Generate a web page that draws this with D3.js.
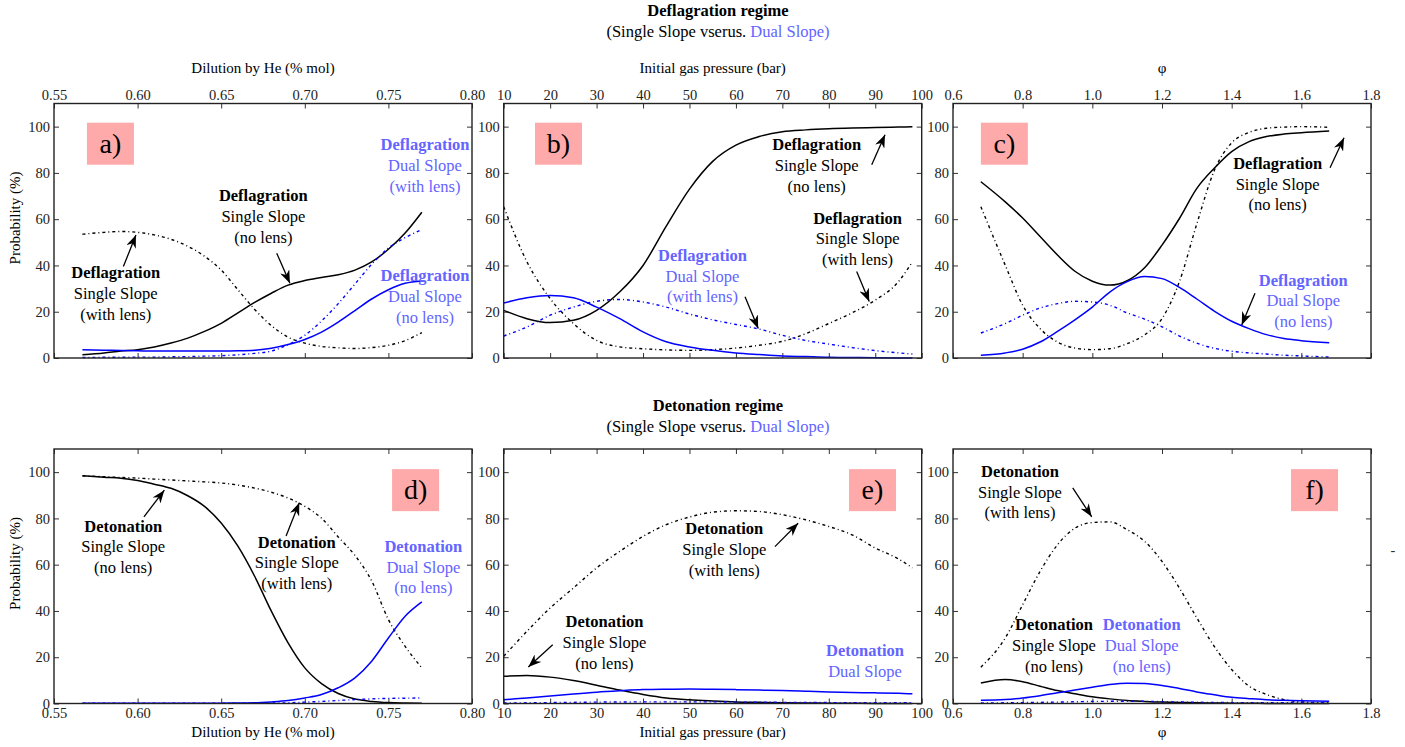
<!DOCTYPE html>
<html>
<head>
<meta charset="utf-8">
<script src="https://cdn.jsdelivr.net/npm/d3@7"></script>
<style>
  body { margin: 0; background: #fff; }
</style>
</head>
<body>
<svg width="1405" height="747"></svg>
<script>
// x samples
const dilutionX = [0.567, 0.58, 0.59, 0.60, 0.61, 0.62, 0.63, 0.64, 0.65, 0.66, 0.67, 0.68, 0.69, 0.70, 0.71, 0.72, 0.73, 0.74, 0.75, 0.76, 0.77];
const pressureX = [10, 15, 20, 25, 30, 35, 40, 45, 50, 55, 60, 65, 70, 75, 80, 85, 90, 95, 98];
const phiX = [0.68, 0.75, 0.8, 0.85, 0.9, 0.95, 1.0, 1.05, 1.1, 1.15, 1.2, 1.25, 1.3, 1.35, 1.4, 1.45, 1.5, 1.55, 1.6, 1.68];

// tick labels
const dilutionTicks = [0.55, 0.60, 0.65, 0.70, 0.75, 0.80];
const pressureTicks = [10, 20, 30, 40, 50, 60, 70, 80, 90, 100];
const phiTicks = [0.6, 0.8, 1.0, 1.2, 1.4, 1.6, 1.8];
const probTicks = [0, 20, 40, 60, 80, 100];

// a) deflagration vs dilution
const aSingleNoLens = [1.4, 2.2, 3.0, 3.6, 4.8, 6.5, 8.6, 11.5, 15, 19.5, 24, 28, 31.5, 33.5, 34.8, 36, 38, 41.5, 47, 54, 63];
const aSingleLens = [53.5, 54.3, 54.7, 54.3, 53.2, 51.3, 48.3, 44, 38, 29.5, 21, 14, 9, 6.4, 5, 4.4, 4.1, 4.5, 5.5, 7.5, 11];
const aDualNoLens = [3.6, 3.4, 3.2, 3.1, 3.0, 3.0, 3.0, 3.0, 3.0, 3.1, 3.4, 4.2, 5.8, 8, 11.2, 15.5, 20.5, 25.5, 29.5, 32.3, 33.3];
const aDualLens = [0.2, 0.3, 0.3, 0.4, 0.4, 0.5, 0.6, 0.8, 1.0, 1.4, 2.0, 3.0, 5.8, 9.8, 16, 23.5, 32, 40.5, 47.5, 52, 55.5];

// b) deflagration vs pressure
const bSingleNoLens = [20.6, 17, 15.3, 16.3, 20.6, 28.6, 40, 57, 73, 85, 92, 95.7, 97.8, 98.6, 99.1, 99.4, 99.6, 99.8, 99.9];
const bSingleLens = [65.4, 41.6, 25.7, 14.9, 7.6, 4.8, 4, 3.5, 3.3, 3.6, 4.3, 5.5, 7.2, 10.5, 14.9, 19.5, 25, 33, 41.6];
const bDualNoLens = [23.8, 26, 27, 26, 22, 17, 11.3, 7, 4.8, 3.3, 2.2, 1.5, 0.9, 0.6, 0.3, 0.2, 0.1, 0.05, 0];
const bDualLens = [9.5, 13.4, 18.5, 22, 24.5, 25.3, 24.2, 22, 19, 16.5, 14.5, 12.5, 9.8, 7.6, 6, 4.5, 3.2, 2.2, 1.7];

// c) deflagration vs phi
const cSingleNoLens = [76.2, 67.5, 60.5, 52.5, 44.5, 37.5, 33.2, 31.5, 33.4, 39, 48.8, 60.3, 73.3, 82, 89.2, 93.5, 95.7, 96.8, 97.4, 98.1];
const cSingleLens = [65.4, 40.1, 22.8, 12.7, 6.9, 4.3, 3.6, 4, 6.2, 10, 17, 33, 58, 81, 93, 97.5, 99.3, 99.8, 100, 99.7];
const cDualNoLens = [1.2, 2.2, 3.8, 6.9, 11.5, 16.5, 22, 28.5, 33, 35.2, 34.3, 30.5, 25.5, 20.3, 15.9, 12.7, 10.1, 8.4, 7.5, 6.6];
const cDualLens = [10.8, 14.9, 18.5, 21.6, 23.5, 24.5, 24.2, 22.8, 19.5, 16.8, 13.5, 9.5, 6.4, 4.2, 2.9, 2.2, 1.7, 1.2, 0.9, 0.4];

// d) detonation vs dilution
const dSingleNoLens = [98.4, 97.8, 97.4, 96.4, 94.8, 93, 89.8, 85.2, 78, 68, 55, 39.9, 26.2, 15.4, 8.6, 4.3, 1.9, 0.9, 0.4, 0.2, 0.1];
const dSingleLens = [98.4, 98.0, 97.7, 97.4, 97.0, 96.6, 96.2, 95.8, 95.3, 94.4, 93.1, 91.3, 88.8, 85.2, 80.1, 72, 64, 53, 36.3, 24.7, 15.4];
const dDualNoLens = [0.1, 0.1, 0.1, 0.1, 0.1, 0.1, 0.1, 0.15, 0.15, 0.2, 0.3, 0.7, 1.3, 2.4, 3.9, 6.8, 11.1, 18.3, 28.3, 37.7, 43.9];
const dDualLens = [0.1, 0.1, 0.1, 0.1, 0.1, 0.1, 0.1, 0.1, 0.1, 0.1, 0.15, 0.2, 0.3, 0.6, 0.9, 1.3, 1.7, 2.0, 2.2, 2.3, 2.4];

// e) detonation vs pressure
const eSingleNoLens = [11.8, 12.1, 11.4, 9.9, 7.9, 5.8, 3.9, 2.4, 1.6, 1.1, 0.7, 0.5, 0.3, 0.2, 0.15, 0.1, 0.05, 0.02, 0];
const eSingleLens = [20.4, 31.2, 41.3, 49.9, 58.6, 65.8, 72.2, 77.3, 80.6, 82.7, 83.3, 83, 81.6, 79.4, 76.5, 72.9, 67.2, 62.5, 58.6];
const eDualNoLens = [1.6, 2.4, 3.2, 4.1, 4.9, 5.5, 6, 6.2, 6.3, 6.2, 6, 5.8, 5.6, 5.3, 5, 4.8, 4.6, 4.4, 4.2];
const eDualLens = [0.2, 0.3, 0.4, 0.5, 0.6, 0.65, 0.7, 0.7, 0.7, 0.7, 0.6, 0.55, 0.5, 0.45, 0.4, 0.35, 0.3, 0.3, 0.3];

// f) detonation vs phi
const fSingleNoLens = [8.9, 10.4, 9.4, 7.5, 5.6, 4.2, 2.9, 2.0, 1.3, 0.9, 0.6, 0.45, 0.3, 0.2, 0.15, 0.1, 0.05, 0.03, 0.02, 0];
const fSingleLens = [15.7, 28.3, 42.7, 57.1, 68.6, 75.8, 78.2, 78.5, 75.1, 70.1, 61.4, 49.9, 37, 24.7, 14.7, 7.5, 3.9, 1.7, 0.7, 0.3];
const fDualNoLens = [1.4, 1.7, 2.4, 3.4, 4.6, 5.8, 7, 8.2, 8.8, 8.6, 7.8, 6.5, 5, 3.8, 2.7, 2.1, 1.6, 1.4, 1.2, 1.0];
const fDualLens = [0.2, 0.3, 0.4, 0.5, 0.6, 0.75, 0.9, 0.95, 1.0, 0.95, 0.8, 0.65, 0.55, 0.45, 0.4, 0.35, 0.3, 0.3, 0.3, 0.3];

const svg = d3.select("svg");
const serif = '"Liberation Serif", "Times New Roman", serif';
const blue = "#0000ff";
const textBlue = "#6464ff";
const dashDot = "3,3,1,3";
const panelW = 418, panelH = 254.5;
const colLeft = [54, 503.7, 953];
const rowTop = [103.5, 449];

const fmt2 = d3.format(".2f"), fmt1 = d3.format(".1f"), fmt0 = d3.format("d");

function sr(xs, a, b, c, d) {
  return [
    { xs: xs, ys: a, color: "#000", dash: null },
    { xs: xs, ys: b, color: "#000", dash: dashDot },
    { xs: xs, ys: c, color: blue, dash: null },
    { xs: xs, ys: d, color: blue, dash: dashDot }
  ];
}

function txt(sel) {
  return sel.append("text").style("font-family", serif);
}

const defl = "Deflagration", deto = "Detonation";
const panels = [
  { letter: "a)", row: 0, col: 0, domain: [0.55, 0.80], ticks: dilutionTicks, fmt: fmt2, title: "Dilution by He (% mol)",
    series: sr(dilutionX, aSingleNoLens, aSingleLens, aDualNoLens, aDualLens), box: [0.5697, 101.7],
    notes: [
      { lines: [defl, "Single Slope", "(with lens)"], color: "#000", at: [0.5869, 34.6], arrow: [0.5915, 39.5, 0.599, 53.2] },
      { lines: [defl, "Single Slope", "(no lens)"], color: "#000", at: [0.6752, 67.7], arrow: [0.6832, 45.3, 0.6911, 32.3] },
      { lines: [defl, "Dual Slope", "(with lens)"], color: textBlue, at: [0.7719, 89.7] },
      { lines: [defl, "Dual Slope", "(no lens)"], color: textBlue, at: [0.7719, 33.3] }
    ] },
  { letter: "b)", row: 0, col: 1, domain: [10, 100], ticks: pressureTicks, fmt: fmt0, title: "Initial gas pressure (bar)",
    series: sr(pressureX, bSingleNoLens, bSingleLens, bDualNoLens, bDualLens), box: [16.74, 101.7],
    notes: [
      { lines: [defl, "Single Slope", "(no lens)"], color: "#000", at: [77.4, 89.7], arrow: [89.24, 83.5, 92.1, 96.5] },
      { lines: [defl, "Single Slope", "(with lens)"], color: "#000", at: [86.2, 58.1], arrow: [86.0, 37.4, 88.7, 24.4] },
      { lines: [defl, "Dual Slope", "(with lens)"], color: textBlue, at: [52.8, 42.0], arrow: [61.96, 26.5, 64.8, 12.8] }
    ] },
  { letter: "c)", row: 0, col: 2, domain: [0.6, 1.8], ticks: phiTicks, fmt: fmt1, title: "φ",
    series: sr(phiX, cSingleNoLens, cSingleLens, cDualNoLens, cDualLens), box: [0.680, 101.7],
    notes: [
      { lines: [defl, "Single Slope", "(no lens)"], color: "#000", at: [1.532, 81.8], arrow: [1.6824, 82.2, 1.7226, 95.2] },
      { lines: [defl, "Dual Slope", "(no lens)"], color: textBlue, at: [1.6057, 31.3], arrow: [1.467, 28.0, 1.4289, 14.3] }
    ] },
  { letter: "d)", row: 1, col: 0, domain: [0.55, 0.80], ticks: dilutionTicks, fmt: fmt2, title: "Dilution by He (% mol)",
    series: sr(dilutionX, dSingleNoLens, dSingleLens, dDualNoLens, dDualLens), box: [0.7522, 101.3],
    notes: [
      { lines: [deto, "Single Slope", "(no lens)"], color: "#000", at: [0.5914, 74.3], arrow: [0.6038, 80.7, 0.616, 92.2] },
      { lines: [deto, "Single Slope", "(with lens)"], color: "#000", at: [0.6952, 67.4], arrow: [0.6888, 72.4, 0.6967, 86.8] },
      { lines: [deto, "Dual Slope", "(no lens)"], color: textBlue, at: [0.7709, 65.6] }
    ] },
  { letter: "e)", row: 1, col: 1, domain: [10, 100], ticks: pressureTicks, fmt: fmt0, title: "Initial gas pressure (bar)",
    series: sr(pressureX, eSingleNoLens, eSingleLens, eDualNoLens, eDualLens), box: [84.35, 101.3],
    notes: [
      { lines: [deto, "Single Slope", "(with lens)"], color: "#000", at: [57.5, 73.1], arrow: [68.4, 67.8, 73.4, 77.9] },
      { lines: [deto, "Single Slope", "(no lens)"], color: "#000", at: [31.7, 33.1], arrow: [20.55, 25.4, 15.3, 15.8] },
      { lines: [deto, "Dual Slope"], color: textBlue, at: [87.8, 20.4] }
    ] },
  { letter: "f)", row: 1, col: 2, domain: [0.6, 1.8], ticks: phiTicks, fmt: fmt1, title: "φ",
    series: sr(phiX, fSingleNoLens, fSingleLens, fDualNoLens, fDualLens), box: [1.5704, 101.3],
    notes: [
      { lines: [deto, "Single Slope", "(with lens)"], color: "#000", at: [0.7924, 98.0], arrow: [0.9437, 93.2, 0.9982, 80.7] },
      { lines: [deto, "Single Slope", "(no lens)"], color: "#000", at: [0.89, 31.6] },
      { lines: [deto, "Dual Slope", "(no lens)"], color: textBlue, at: [1.1418, 31.6] }
    ] }
];

// arrow head
svg.append("defs").append("marker")
  .attr("id", "head")
  .attr("markerUnits", "userSpaceOnUse")
  .attr("markerWidth", 14).attr("markerHeight", 10)
  .attr("refX", 13).attr("refY", 5)
  .attr("orient", "auto")
  .append("path")
  .attr("d", "M0,0 L13,5 L0,10 L4,5 Z")
  .attr("fill", "#000");

panels.forEach(p => {
  const g = svg.append("g")
    .attr("transform", "translate(" + colLeft[p.col] + "," + rowTop[p.row] + ")");
  const x = d3.scaleLinear().domain(p.domain).range([0, panelW]);
  const y = d3.scaleLinear().domain([0, 110]).range([panelH, 0]);

  // axes, ticks pointing inward
  const styleAxis = a => {
    a.attr("font-size", 14.5);
    a.select(".domain").remove();
    a.selectAll(".tick line").attr("stroke", "#333");
    a.selectAll(".tick text").attr("fill", "#222").style("font-family", serif);
  };
  const xMain = p.row === 0 ? d3.axisTop(x) : d3.axisBottom(x);
  const xMirror = p.row === 0 ? d3.axisBottom(x) : d3.axisTop(x);
  g.append("g").attr("transform", "translate(0," + (p.row === 0 ? 0 : panelH) + ")")
    .call(xMain.tickValues(p.ticks).tickFormat(p.fmt).tickSize(-5).tickPadding(4)).call(styleAxis);
  g.append("g").attr("transform", "translate(0," + (p.row === 0 ? panelH : 0) + ")")
    .call(xMirror.tickValues(p.ticks).tickFormat("").tickSize(-5)).call(styleAxis);
  g.append("g")
    .call(d3.axisLeft(y).tickValues(probTicks).tickSize(-5).tickPadding(4)).call(styleAxis);
  g.append("g").attr("transform", "translate(" + panelW + ",0)")
    .call(d3.axisRight(y).tickValues(probTicks).tickFormat("").tickSize(-5)).call(styleAxis);

  // curves
  const line = d3.line()
    .x(d => x(d[0]))
    .y(d => y(d[1]))
    .curve(d3.curveMonotoneX);
  g.selectAll("path.curve")
    .data(p.series)
    .enter()
    .append("path")
    .attr("class", "curve")
    .attr("d", s => line(s.xs.map((v, i) => [v, s.ys[i]])))
    .attr("fill", "none")
    .attr("stroke", s => s.color)
    .attr("stroke-width", s => s.dash ? 1.4 : 1.5)
    .attr("stroke-dasharray", s => s.dash);

  // frame
  g.append("rect")
    .attr("width", panelW).attr("height", panelH)
    .attr("fill", "none").attr("stroke", "#222").attr("stroke-width", 1.4);

  // panel letter
  g.append("rect")
    .attr("x", x(p.box[0])).attr("y", y(p.box[1]))
    .attr("width", 47).attr("height", 42)
    .attr("fill", "#ffaaaa");
  txt(g)
    .attr("x", x(p.box[0]) + 23.5).attr("y", y(p.box[1]) + 30)
    .attr("text-anchor", "middle").attr("font-size", 28)
    .text(p.letter);

  // annotations
  p.notes.forEach(n => {
    if (n.arrow) {
      g.append("line")
        .attr("x1", x(n.arrow[0])).attr("y1", y(n.arrow[1]))
        .attr("x2", x(n.arrow[2])).attr("y2", y(n.arrow[3]))
        .attr("stroke", "#000").attr("stroke-width", 1.3)
        .attr("marker-end", "url(#head)");
    }
    const t = txt(g)
      .attr("x", x(n.at[0])).attr("y", y(n.at[1]))
      .attr("text-anchor", "middle").attr("font-size", 16.5)
      .attr("fill", n.color);
    n.lines.forEach((l, i) => {
      t.append("tspan")
        .attr("x", x(n.at[0]))
        .attr("dy", i === 0 ? 0 : 20.8)
        .attr("font-weight", i === 0 ? "bold" : null)
        .text(l);
    });
  });

  // axis title
  txt(svg)
    .attr("x", colLeft[p.col] + panelW / 2)
    .attr("y", p.row === 0 ? rowTop[0] - 31 : rowTop[1] + panelH + 33)
    .attr("text-anchor", "middle").attr("font-size", 15)
    .text(p.title);

  if (p.col === 0) {
    txt(svg)
      .attr("transform", "translate(20," + (rowTop[p.row] + 114.5) + ") rotate(-90)")
      .attr("text-anchor", "middle").attr("font-size", 15)
      .text("Probability (%)");
  }
});

// row titles
const rowTitles = ["Deflagration regime", "Detonation regime"];
const titleY = [16, 410.7];
rowTitles.forEach((tt, i) => {
  txt(svg)
    .attr("x", 718).attr("y", titleY[i])
    .attr("text-anchor", "middle").attr("font-size", 16.5).attr("font-weight", "bold")
    .text(tt);
  const sub = txt(svg)
    .attr("x", 718).attr("y", titleY[i] + 21)
    .attr("text-anchor", "middle").attr("font-size", 16.5);
  sub.append("tspan").text("(Single Slope vserus. ");
  sub.append("tspan").attr("fill", textBlue).text("Dual Slope)");
});

// stray mark at right edge
txt(svg)
  .attr("x", 1393).attr("y", 555)
  .attr("text-anchor", "middle").attr("font-size", 14.5).attr("fill", "#333")
  .text("-");
</script>
</body>
</html>
